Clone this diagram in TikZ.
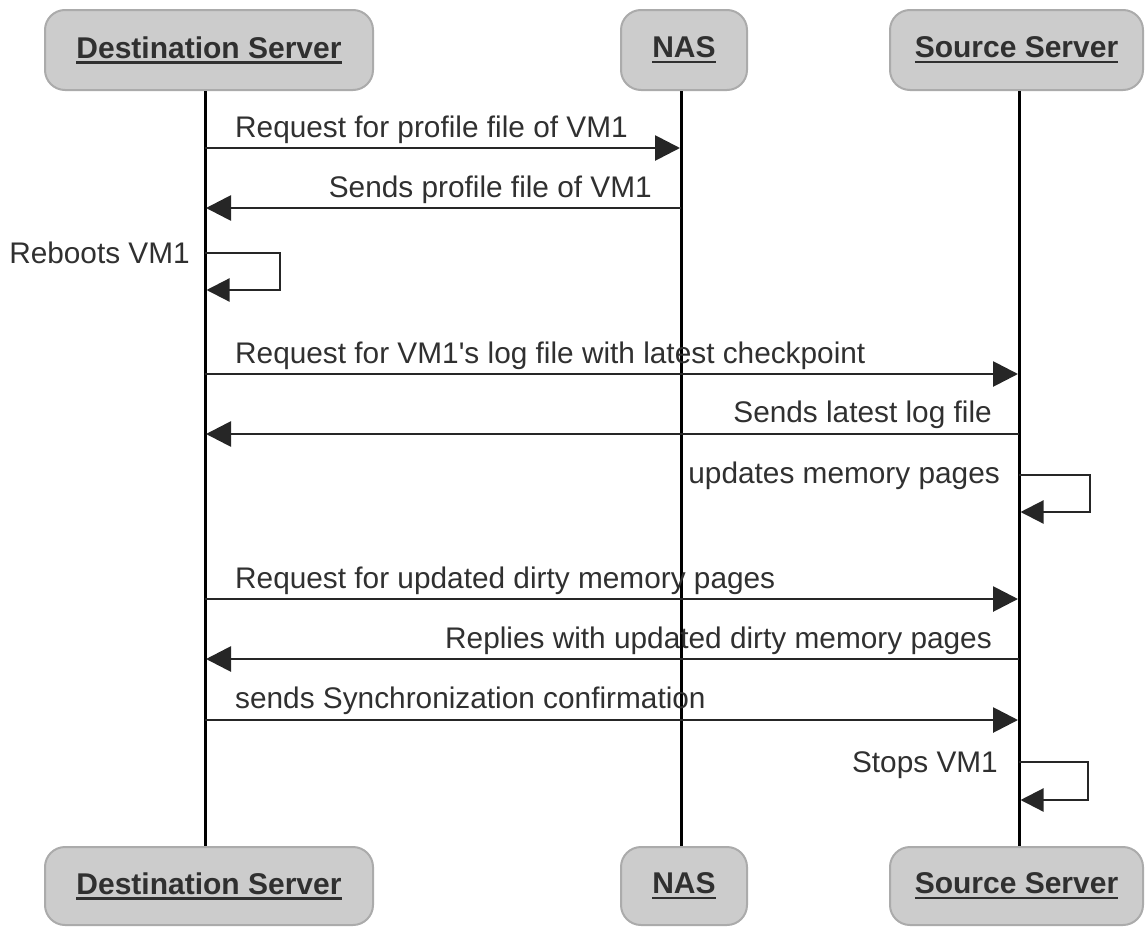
\documentclass[tikz,border=0pt]{standalone}
\usepackage{fontspec}
\setmainfont{Liberation Sans}
\usetikzlibrary{arrows.meta}
\definecolor{boxfill}{HTML}{CCCCCC}
\definecolor{boxline}{HTML}{ABABAB}
\definecolor{txt}{HTML}{303030}
\definecolor{msgline}{HTML}{262626}
% underlined header text
\newcommand\ulbox[1]{\setbox0\hbox{#1}\rlap{\vrule height -3pt depth 5.5pt width \wd0}\box0}
\begin{document}
\begin{tikzpicture}[x=1pt,y=-1pt,
  actor/.style={draw=boxline, line width=2pt, fill=boxfill, rounded corners=20pt,
    inner sep=0pt, font=\fontsize{30}{36}\selectfont\bfseries, text=txt},
  lifeline/.style={line width=3pt, black},
  msg/.style={line width=2.8pt, msgline, shorten >=1pt, -{Triangle[length=25pt,width=25pt]}},
  selfmsg/.style={line width=2.2pt, msgline, shorten >=1.5pt, -{Triangle[length=23pt,width=23pt]}},
  lbl/.style={font=\fontsize{29.8}{34}\selectfont, text=txt, inner sep=0pt}
]
\useasboundingbox (0,0) rectangle (1145,926);

% participant boxes, top and bottom
\node[actor, minimum width=328pt, minimum height=80pt] (dT) at (209,50)   {\ulbox{Destination Server}};
\node[actor, minimum width=126pt, minimum height=80pt] (nT) at (684,50)   {\ulbox{NAS}};
\node[actor, minimum width=253pt, minimum height=80pt] (sT) at (1016.5,50){\ulbox{Source Server}};
\node[actor, minimum width=328pt, minimum height=78pt] (dB) at (209,886)  {\ulbox{Destination Server}};
\node[actor, minimum width=126pt, minimum height=78pt] (nB) at (684,886)  {\ulbox{NAS}};
\node[actor, minimum width=253pt, minimum height=78pt] (sB) at (1016.5,886){\ulbox{Source Server}};

% lifelines
\draw[lifeline] ([xshift=-4pt]dT.south) -- ([xshift=-4pt]dB.north);
\draw[lifeline] ([xshift=-3pt]nT.south) -- ([xshift=-3pt]nB.north);
\draw[lifeline] ([xshift=2.5pt]sT.south) -- ([xshift=2.5pt]sB.north);

% message end points on the lifelines
\coordinate (d1) at (205,148); \coordinate (n1) at (681,148);
\coordinate (n2) at (681,208); \coordinate (d2) at (205,208);
\coordinate (d3a) at (205,253); \coordinate (d3b) at (205,290);
\coordinate (d4) at (205,374); \coordinate (s4) at (1019,374);
\coordinate (s5) at (1019,434); \coordinate (d5) at (205,434);
\coordinate (s6a) at (1019,475); \coordinate (s6b) at (1019,512);
\coordinate (d7) at (205,599); \coordinate (s7) at (1019,599);
\coordinate (s8) at (1019,659); \coordinate (d8) at (205,659);
\coordinate (d9) at (205,720); \coordinate (s9) at (1019,720);
\coordinate (s10a) at (1019,762); \coordinate (s10b) at (1019,800);

% messages
\draw[msg] (d1) -- (n1);
\draw[msg] (n2) -- (d2);
\draw[selfmsg] (d3a) -- (280,253) -- (280,290) -- (d3b);
\draw[msg] (d4) -- (s4);
\draw[msg] (s5) -- (d5);
\draw[selfmsg] (s6a) -- (1090,475) -- (1090,512) -- (s6b);
\draw[msg] (d7) -- (s7);
\draw[msg] (s8) -- (d8);
\draw[msg] (d9) -- (s9);
\draw[selfmsg] (s10a) -- (1088,762) -- (1088,800) -- (s10b);

% message labels
\node[lbl, anchor=base west] (l1) at (235,137) {Request for profile file of VM1};
\node[lbl, anchor=base east] (l2) at (652,197) {Sends profile file of VM1};
\node[lbl, anchor=base east] (l3) at (190,263) {Reboots VM1};
\node[lbl, anchor=base west] (l4) at (235,363) {Request for VM1\textquotesingle s log file with latest checkpoint};
\node[lbl, anchor=base east] (l5) at (992,422) {Sends latest log file};
\node[lbl, anchor=base east] (l6) at (1000,483) {updates memory pages};
\node[lbl, anchor=base west] (l7) at (235,588) {Request for updated dirty memory pages};
\node[lbl, anchor=base east] (l8) at (992,648) {Replies with updated dirty memory pages};
\node[lbl, anchor=base west] (l9) at (235,708) {sends Synchronization confirmation};
\node[lbl, anchor=base east] (l10) at (998,772) {Stops VM1};
\end{tikzpicture}
\end{document}
